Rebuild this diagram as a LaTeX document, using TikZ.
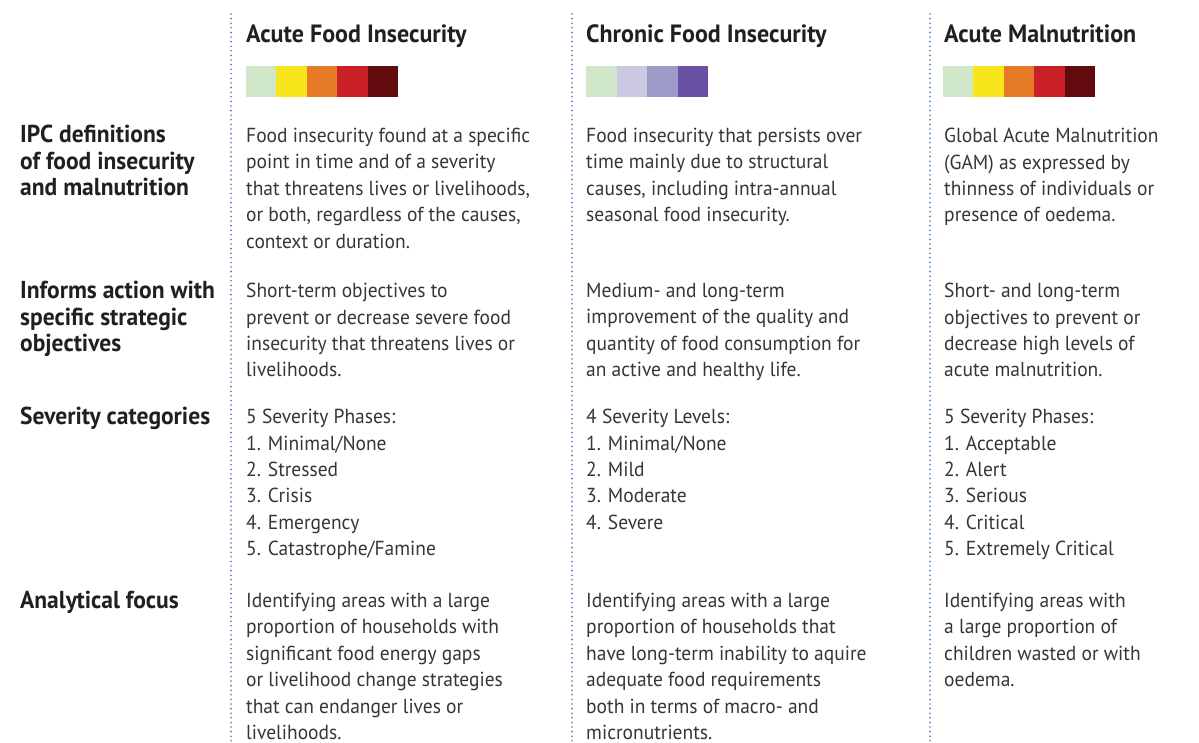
\documentclass[tikz,border=0pt]{standalone}
\usepackage{fontspec}
\setmainfont{PT Sans}[FakeStretch=0.96]
\definecolor{dotblue}{HTML}{3C78B8}
\definecolor{txt}{HTML}{231F20}
\definecolor{ph1}{HTML}{CFE6C8}
\definecolor{ph2}{HTML}{F7E61B}
\definecolor{ph3}{HTML}{E67A26}
\definecolor{ph4}{HTML}{CA2027}
\definecolor{ph5}{HTML}{630A0E}
\definecolor{lv2}{HTML}{CBC9E2}
\definecolor{lv3}{HTML}{9E9AC8}
\definecolor{lv4}{HTML}{6A51A3}
\begin{document}
\begin{tikzpicture}[x=1pt, y=-1pt,
  head/.style = {anchor=base west, inner sep=0, text=txt, font=\fontsize{25}{28}\selectfont\bfseries},
  lab/.style = {anchor=north west, inner sep=0, align=left, text=txt, font=\fontsize{24.5}{26.4}\selectfont\bfseries},
  cell/.style = {anchor=north west, inner sep=0, align=left, text=txt!90, font=\fontsize{20.3}{26.4}\selectfont},
  sep/.style = {dotblue, line width=1.8pt, line cap=round, dash pattern=on 0pt off 4.6pt}]
\useasboundingbox[fill=white] (0,0) rectangle (1199,742);
% dotted column separators
\coordinate (s1t) at (231,14); \coordinate (s1b) at (231,742);
\coordinate (s2t) at (572,14); \coordinate (s2b) at (572,742);
\coordinate (s3t) at (930,14); \coordinate (s3b) at (930,742);
\draw[sep] (s1t) -- (s1b);
\draw[sep] (s2t) -- (s2b);
\draw[sep] (s3t) -- (s3b);
% headers
\node[head] (acute) at (246,42.5) {Acute Food Insecurity};
\node[head] (chronic) at (586,42.5) {Chronic Food Insecurity};
\node[head] (malnut) at (944,42.5) {Acute Malnutrition};
% colour scales
\foreach \c [count=\i] in {ph1,ph2,ph3,ph4,ph5}
  \fill[\c] (246+30.4*\i-30.4,66) rectangle +(30.4,31);
\foreach \c [count=\i] in {ph1,lv2,lv3,lv4}
  \fill[\c] (586+30.5*\i-30.5,66) rectangle +(30.5,31);
\foreach \c [count=\i] in {ph1,ph2,ph3,ph4,ph5}
  \fill[\c] (943+30.4*\i-30.4,66) rectangle +(30.4,31);
% row labels
\node[lab] (def) at (20,125) {IPC definitions\\of food insecurity\\and malnutrition};
\node[lab] (act) at (20,281) {Informs action with\\specific strategic\\objectives};
\node[lab] (sev) at (20,407) {Severity categories};
\node[lab] (foc) at (20,591) {Analytical focus};
% definitions
\node[cell] (def1) at (246,128) {Food insecurity found at a specific\\point in time and of a severity\\that threatens lives or livelihoods,\\or both, regardless of the causes,\\context or duration.};
\node[cell] (def2) at (586,128) {Food insecurity that persists over\\time mainly due to structural\\causes, including intra-annual\\seasonal food insecurity.};
\node[cell] (def3) at (944,128) {Global Acute Malnutrition\\(GAM) as expressed by\\thinness of individuals or\\presence of oedema.};
% actions
\node[cell] (act1) at (246,283) {Short-term objectives to\\prevent or decrease severe food\\insecurity that threatens lives or\\livelihoods.};
\node[cell] (act2) at (586,283) {Medium- and long-term\\improvement of the quality and\\quantity of food consumption for\\an active and healthy life.};
\node[cell] (act3) at (944,283) {Short- and long-term\\objectives to prevent or\\decrease high levels of\\acute malnutrition.};
% severity
\node[cell] (sev1) at (246,409) {5 Severity Phases:\\1. Minimal/None\\2. Stressed\\3. Crisis\\4. Emergency\\5. Catastrophe/Famine};
\node[cell] (sev2) at (586,409) {4 Severity Levels:\\1. Minimal/None\\2. Mild\\3. Moderate\\4. Severe};
\node[cell] (sev3) at (944,409) {5 Severity Phases:\\1. Acceptable\\2. Alert\\3. Serious\\4. Critical\\5. Extremely Critical};
% focus
\node[cell] (foc1) at (246,593) {Identifying areas with a large\\proportion of households with\\significant food energy gaps\\or livelihood change strategies\\that can endanger lives or\\livelihoods.};
\node[cell] (foc2) at (586,593) {Identifying areas with a large\\proportion of households that\\have long-term inability to aquire\\adequate food requirements\\both in terms of macro- and\\micronutrients.};
\node[cell] (foc3) at (944,593) {Identifying areas with\\a large proportion of\\children wasted or with\\oedema.};
\end{tikzpicture}
\end{document}
